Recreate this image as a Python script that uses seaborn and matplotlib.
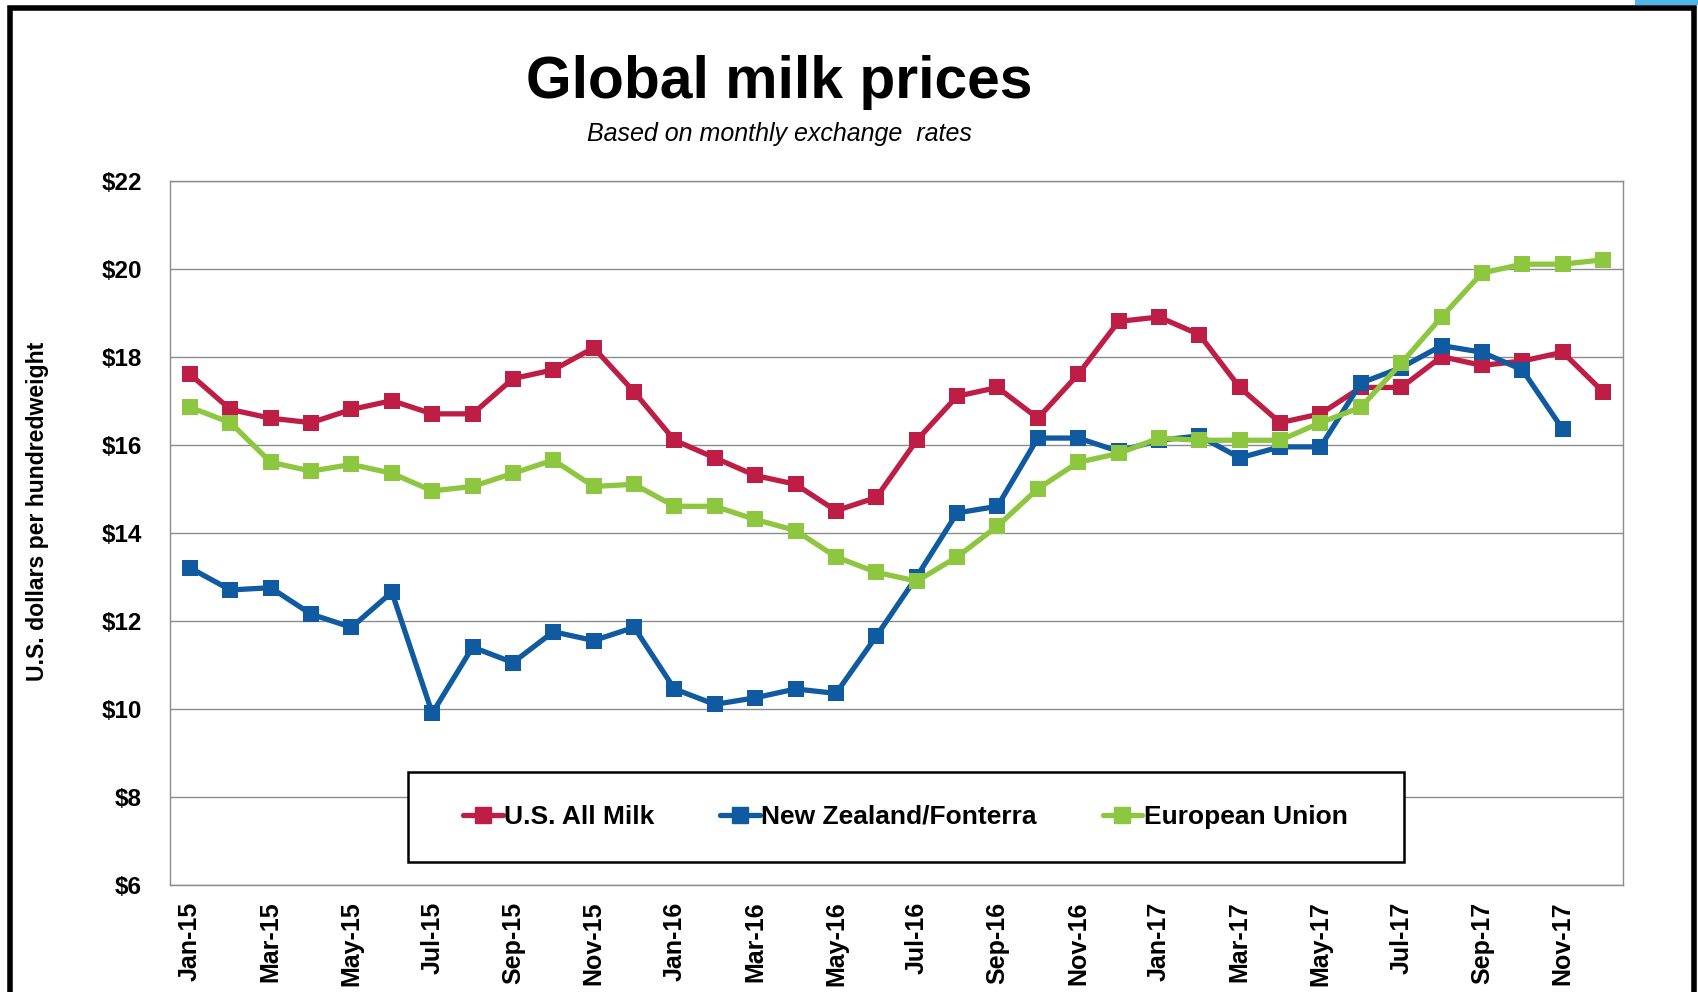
import pandas as pd
import matplotlib
matplotlib.use("Agg")
import matplotlib.pyplot as plt
from matplotlib.lines import Line2D
from matplotlib.patches import Rectangle
from matplotlib.ticker import FixedLocator, FuncFormatter
import seaborn as sns

# monthly data, Jan-15 .. Dec-17
months = pd.date_range("2015-01-01", "2017-12-01", freq="MS")
month_labels = [m.strftime("%b-%y") for m in months]

us_all_milk = [17.6, 16.8, 16.6, 16.5, 16.8, 17.0, 16.7, 16.7, 17.5, 17.7, 18.2, 17.2,
               16.1, 15.7, 15.3, 15.1, 14.5, 14.8, 16.1, 17.1, 17.3, 16.6, 17.6, 18.8,
               18.9, 18.5, 17.3, 16.5, 16.7, 17.3, 17.3, 18.0, 17.8, 17.9, 18.1, 17.2]
new_zealand = [13.2, 12.7, 12.75, 12.15, 11.85, 12.65, 9.9, 11.4, 11.05, 11.75, 11.55, 11.85,
               10.45, 10.1, 10.25, 10.45, 10.35, 11.65, 13.0, 14.45, 14.6, 16.15, 16.15, 15.85,
               16.1, 16.2, 15.7, 15.95, 15.95, 17.4, 17.75, 18.25, 18.1, 17.7, 16.35]
european_union = [16.85, 16.5, 15.6, 15.4, 15.55, 15.35, 14.95, 15.05, 15.35, 15.65, 15.05, 15.1,
                  14.6, 14.6, 14.3, 14.05, 13.45, 13.1, 12.9, 13.45, 14.15, 15.0, 15.6, 15.8,
                  16.15, 16.1, 16.1, 16.1, 16.5, 16.85, 17.85, 18.9, 19.9, 20.1, 20.1, 20.2]

series_names = ["U.S. All Milk", "New Zealand/Fonterra", "European Union"]
colors = {"U.S. All Milk": "#BE1E45",
          "New Zealand/Fonterra": "#0F5AA0",
          "European Union": "#8DC63F"}

rows = []
for name, vals in zip(series_names, [us_all_milk, new_zealand, european_union]):
    for i, v in enumerate(vals):
        rows.append({"idx": i, "price": v, "series": name})
df = pd.DataFrame(rows)

sns.set_style("white")
plt.rcParams["font.family"] = ["Liberation Sans", "DejaVu Sans"]
plt.rcParams["text.color"] = "black"
plt.rcParams["axes.labelcolor"] = "black"
plt.rcParams["xtick.labelcolor"] = "black"
plt.rcParams["ytick.labelcolor"] = "black"

fig = plt.figure(figsize=(16.98, 9.92), dpi=100)
ax = fig.add_axes([0.100, 0.108, 0.856, 0.710])

sns.lineplot(data=df, x="idx", y="price", hue="series", palette=colors,
             marker="s", markersize=11, markeredgewidth=0, linewidth=3.8,
             legend=False, ax=ax)

ax.set_xlim(-0.5, 35.5)
ax.set_ylim(6, 22)
ax.set_yticks(range(6, 23, 2))
ax.yaxis.set_major_formatter(FuncFormatter(lambda v, p: f"${v:.0f}"))
ax.yaxis.grid(True, color="#8c8c8c", linewidth=1)
ax.xaxis.grid(False)

ax.xaxis.set_major_locator(FixedLocator(range(0, 36, 2)))
ax.set_xticklabels(month_labels[0:36:2], rotation=90, fontweight="bold", fontsize=18)
ax.xaxis.set_minor_locator(FixedLocator([x - 0.5 for x in range(0, 37, 2)]))
ax.tick_params(axis="x", which="major", length=0, pad=12)
ax.tick_params(axis="x", which="minor", length=8, color="#8c8c8c", width=1, direction="out")
ax.tick_params(axis="y", length=10, color="#8c8c8c", width=1, direction="out", pad=10)
for lab in ax.get_yticklabels():
    lab.set_fontweight("bold")
    lab.set_fontsize(17.5)

for s in ax.spines.values():
    s.set_color("#8c8c8c")
    s.set_linewidth(1)

ax.set_xlabel("")
ax.set_ylabel("")
fig.text(0.022, 0.484, "U.S. dollars per hundredweight", rotation=90,
         ha="center", va="center", fontsize=16.6, fontweight="bold")

fig.text(0.459, 0.917, "Global milk prices", ha="center", va="center",
         fontsize=42.3, fontweight="bold")
fig.text(0.459, 0.865, "Based on monthly exchange  rates", ha="center", va="center",
         fontsize=18, style="italic")

# legend box drawn separately, entries centred inside it
ax.add_patch(Rectangle((0.164, 0.033), 0.685, 0.127, transform=ax.transAxes,
                       fill=True, facecolor="white", edgecolor="black",
                       linewidth=1.8, zorder=5))
handles = [Line2D([], [], color=colors[n], marker="s", markersize=11, linewidth=3.8)
           for n in series_names]
leg = ax.legend(handles, series_names, loc="center", ncol=3,
                bbox_to_anchor=(0.506, 0.0966), frameon=False,
                handlelength=1.5, handletextpad=0.05, columnspacing=2.5,
                prop={"weight": "bold", "size": 19})
leg.set_zorder(6)

# slide frame
fig.patches.append(Rectangle((10 / 1698, -0.1), 1684 / 1698, 1.1 - 8 / 992,
                             transform=fig.transFigure, fill=False,
                             edgecolor="black", linewidth=4))
fig.patches.append(Rectangle((1635 / 1698, 1 - 5 / 992), 63 / 1698, 5 / 992,
                             transform=fig.transFigure, facecolor="#4FB8E8",
                             edgecolor="none"))

fig.savefig("out.png", dpi=100)
